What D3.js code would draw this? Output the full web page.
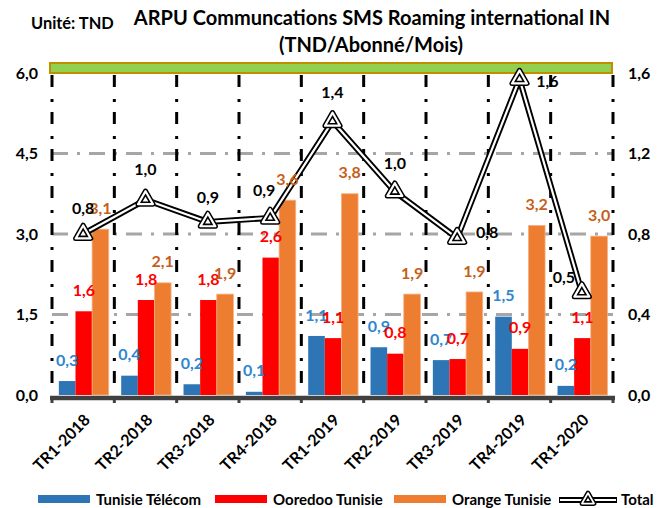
<!DOCTYPE html>
<html>
<head>
<meta charset="utf-8">
<script src="https://cdn.jsdelivr.net/npm/d3@7"></script>
<style>
  body { margin: 0; background: #fff; }
  svg { display: block; font-family: Lato, "Open Sans", sans-serif; font-weight: bold; }
</style>
</head>
<body>
<div id="chart"></div>
<script>
// données
const categories = ["TR1-2018", "TR2-2018", "TR3-2018", "TR4-2018", "TR1-2019", "TR2-2019", "TR3-2019", "TR4-2019", "TR1-2020"];
const tunisieTelecom = [0.26, 0.36, 0.2, 0.06, 1.1, 0.89, 0.65, 1.46, 0.17];
const ooredoo = [1.56, 1.77, 1.77, 2.56, 1.06, 0.77, 0.67, 0.86, 1.06];
const orange = [3.09, 2.09, 1.88, 3.63, 3.75, 1.88, 1.92, 3.16, 2.96];
const total = [0.8, 0.97, 0.86, 0.88, 1.36, 1.01, 0.78, 1.57, 0.51];
const leftTicks = [0, 1.5, 3, 4.5, 6];
const rightTicks = [0, 0.4, 0.8, 1.2, 1.6];
const seriesNames = ["Tunisie Télécom", "Ooredoo Tunisie", "Orange Tunisie"];

// décalages des étiquettes du total (placées à la main dans l'original)
const totalLabelOffset = [[0, -26], [0, -30], [0, -25], [-6, -28], [0, -29], [0, -28], [30, -6], [28, 2], [-18, -15]];

const width = 657, height = 508;
const plot = {left: 52, right: 613, top: 73, bottom: 395};
const colors = ["#2E75B6", "#FF0000", "#ED7D31"];
const labelColors = ["#2E86D0", "#FF0000", "#C65F1A"];
const fmt = v => v.toFixed(1).replace(".", ",");

const svg = d3.select("#chart").append("svg")
    .attr("width", width)
    .attr("height", height);

const x0 = d3.scaleBand().domain(categories).range([plot.left, plot.right]);
const x1 = d3.scaleBand().domain(d3.range(3))
    .range([x0.bandwidth() * 0.11, x0.bandwidth() * 0.91]);
const yL = d3.scaleLinear().domain([0, 6]).range([plot.bottom, plot.top]);
const yR = d3.scaleLinear().domain([0, 1.6]).range([plot.bottom, plot.top]);

// titre
svg.append("text").attr("x", 31).attr("y", 29)
    .style("font-size", "16.4px").text("Unité: TND");
svg.append("text").attr("x", 372).attr("y", 25).attr("text-anchor", "middle")
    .style("font-size", "20px").text("ARPU Communcations SMS Roaming international IN");
svg.append("text").attr("x", 371).attr("y", 52).attr("text-anchor", "middle")
    .style("font-size", "20px").text("(TND/Abonné/Mois)");

// bande verte en haut
svg.append("rect")
    .attr("x", plot.left - 2).attr("y", yL(6) - 10)
    .attr("width", plot.right - plot.left + 1).attr("height", 10)
    .attr("fill", "#92D050").attr("stroke", "#BF8F00").attr("stroke-width", 2);

// grille horizontale
svg.append("g").selectAll("line")
    .data(leftTicks.filter(d => d > 0 && d < 6))
    .join("line")
    .attr("x1", plot.left).attr("x2", plot.right)
    .attr("y1", d => yL(d)).attr("y2", d => yL(d))
    .attr("stroke", "#A6A6A6").attr("stroke-width", 3)
    .attr("stroke-dasharray", "16,9,3,9");

// grille verticale
const bounds = categories.map(c => x0(c)).concat([plot.right]);
svg.append("g").selectAll("line")
    .data(bounds)
    .join("line")
    .attr("x1", d => d).attr("x2", d => d)
    .attr("y1", plot.top + 2).attr("y2", plot.bottom)
    .attr("stroke", "#000").attr("stroke-width", 3)
    .attr("stroke-dasharray", "12,12,3,10");

// barres
const series = [tunisieTelecom, ooredoo, orange];
const cells = (c, i) => series.map((s, k) => ({k, v: s[i]}));
const groups = svg.append("g").selectAll("g")
    .data(categories)
    .join("g")
    .attr("transform", d => `translate(${x0(d)},0)`);

groups.selectAll("rect")
    .data(cells)
    .join("rect")
    .attr("x", d => x1(d.k))
    .attr("y", d => yL(d.v))
    .attr("width", x1.bandwidth())
    .attr("height", d => yL(0) - yL(d.v))
    .attr("fill", d => colors[d.k])
    .attr("stroke", d => d.k === 2 ? "#F4B183" : "none")
    .attr("stroke-width", 0.8);

// axe des x
svg.append("line")
    .attr("x1", plot.left - 2).attr("x2", plot.right + 2)
    .attr("y1", plot.bottom + 3).attr("y2", plot.bottom + 3)
    .attr("stroke", "#404040").attr("stroke-width", 4.5);
svg.append("g").selectAll("line")
    .data(bounds)
    .join("line")
    .attr("x1", d => d).attr("x2", d => d)
    .attr("y1", plot.bottom + 2).attr("y2", plot.bottom + 8)
    .attr("stroke", "#404040").attr("stroke-width", 3);

svg.append("g").selectAll("text")
    .data(categories)
    .join("text")
    .attr("text-anchor", "end")
    .attr("transform", d => `translate(${x0(d) + x0.bandwidth() / 2 + 8},${plot.bottom + 26}) rotate(-45)`)
    .style("font-size", "16px")
    .text(d => d);

// axes y
svg.append("g").selectAll("text")
    .data(leftTicks)
    .join("text")
    .attr("x", 38).attr("y", d => yL(d)).attr("dy", "0.35em")
    .attr("text-anchor", "end")
    .style("font-size", "16px")
    .text(fmt);
svg.append("g").selectAll("text")
    .data(rightTicks)
    .join("text")
    .attr("x", 628).attr("y", d => yR(d)).attr("dy", "0.35em")
    .style("font-size", "16px")
    .text(fmt);

// ligne du total (double trait)
const cx = c => x0(c) + x0.bandwidth() / 2;
const line = d3.line().x((d, i) => cx(categories[i])).y(d => yR(d));
svg.append("path").datum(total).attr("d", line)
    .attr("fill", "none").attr("stroke", "#000").attr("stroke-width", 6)
    .attr("stroke-linejoin", "round");
svg.append("path").datum(total).attr("d", line)
    .attr("fill", "none").attr("stroke", "#fff").attr("stroke-width", 2.2)
    .attr("stroke-linejoin", "round");

const tri = d3.symbol().type(d3.symbolTriangle);
function marker (sel, size) {
    sel.append("path").attr("d", tri.size(size)())
        .attr("fill", "#fff").attr("stroke", "#000").attr("stroke-width", 5)
        .attr("stroke-linejoin", "round");
    sel.append("path").attr("d", tri.size(size)())
        .attr("fill", "#fff").attr("stroke", "#fff").attr("stroke-width", 2)
        .attr("stroke-linejoin", "round");
    sel.append("path").attr("d", tri.size(size * 0.3)())
        .attr("fill", "#fff").attr("stroke", "#000").attr("stroke-width", 1.6);
}
svg.append("g").selectAll("g")
    .data(total)
    .join("g")
    .attr("transform", (d, i) => `translate(${cx(categories[i])},${yR(d)})`)
    .each(function () { marker(d3.select(this), 100); });

// étiquettes des barres (au-dessus de la ligne)
svg.append("g").selectAll("g")
    .data(categories)
    .join("g")
    .attr("transform", d => `translate(${x0(d)},0)`)
    .selectAll("text")
    .data(cells)
    .join("text")
    .attr("x", d => x1(d.k) + x1.bandwidth() / 2)
    .attr("y", d => yL(d.v) - 21)
    .attr("dy", "0.35em")
    .attr("text-anchor", "middle")
    .attr("fill", d => labelColors[d.k])
    .style("font-size", "16px")
    .text(d => fmt(d.v));

// étiquettes du total
svg.append("g").selectAll("text")
    .data(total)
    .join("text")
    .attr("x", (d, i) => cx(categories[i]) + totalLabelOffset[i][0])
    .attr("y", (d, i) => yR(d) + totalLabelOffset[i][1])
    .attr("dy", "0.35em")
    .attr("text-anchor", "middle")
    .style("font-size", "16px")
    .text(fmt);

// légende
const legendX = [38, 215, 394];
const legend = svg.append("g");
seriesNames.forEach((name, k) => {
    legend.append("rect")
        .attr("x", legendX[k]).attr("y", 495)
        .attr("width", 52).attr("height", 8)
        .attr("fill", colors[k]);
    legend.append("text")
        .attr("x", legendX[k] + 58).attr("y", 500).attr("dy", "0.35em")
        .style("font-size", "15px")
        .text(name);
});
const lt = legend.append("g");
lt.append("line").attr("x1", 559).attr("x2", 617).attr("y1", 500).attr("y2", 500)
    .attr("stroke", "#000").attr("stroke-width", 6);
lt.append("line").attr("x1", 560).attr("x2", 616).attr("y1", 500).attr("y2", 500)
    .attr("stroke", "#fff").attr("stroke-width", 2.2);
marker(lt.append("g").attr("transform", "translate(588,500)"), 60);
legend.append("text")
    .attr("x", 621).attr("y", 500).attr("dy", "0.35em")
    .style("font-size", "15px")
    .text("Total");
</script>
</body>
</html>
